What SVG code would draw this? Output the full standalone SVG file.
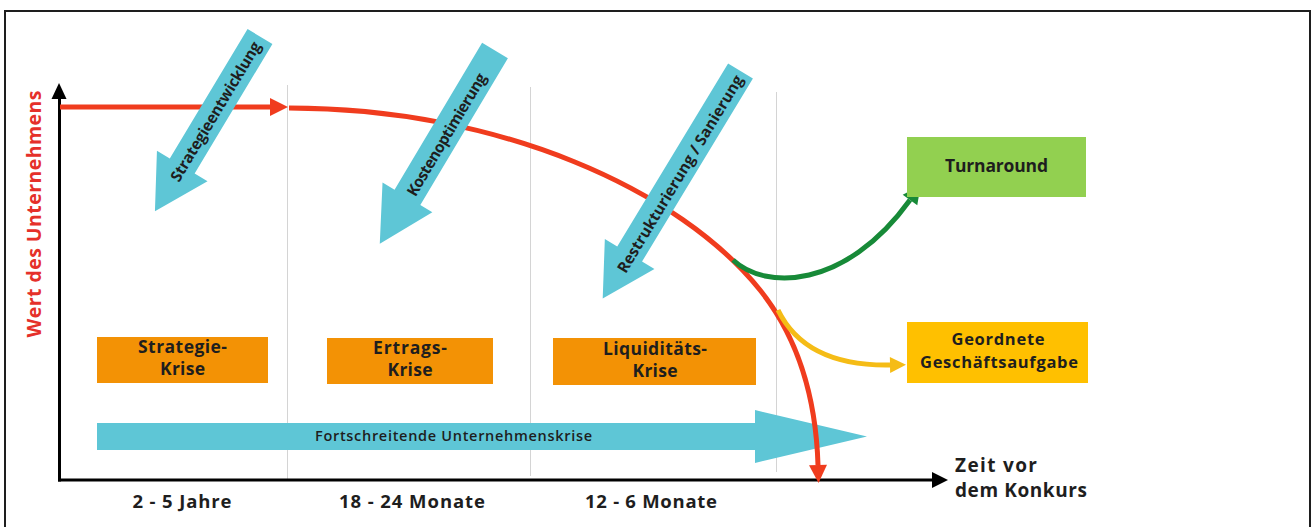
<svg xmlns="http://www.w3.org/2000/svg" width="1313" height="527" viewBox="0 0 1313 527">
<style>
.lbl{font-family:"Open Sans",Lato,"Liberation Sans",sans-serif;font-weight:bold;fill:#1e1e1e;text-anchor:middle}
.box{font-size:17.5px}
.arr{font-size:15.5px}
.grid{stroke:#d4d4d4;stroke-width:1}
.cyan{fill:#5ec6d6}
.red{fill:none;stroke:#f03c1e;stroke-width:5}
</style>
<defs>
<marker id="ahR" viewBox="-1 -10 20 20" refX="0" refY="0" markerWidth="20" markerHeight="20" markerUnits="userSpaceOnUse" orient="auto"><path d="M0,-9 L18,0 L0,9 Z" fill="#f03c1e"/></marker>
<marker id="ahG" viewBox="-1 -10 20 20" refX="0" refY="0" markerWidth="20" markerHeight="20" markerUnits="userSpaceOnUse" orient="auto"><path d="M0,-9 L18,0 L0,9 Z" fill="#178a38"/></marker>
<marker id="ahY" viewBox="-1 -10 20 20" refX="0" refY="0" markerWidth="20" markerHeight="20" markerUnits="userSpaceOnUse" orient="auto"><path d="M0,-8 L16,0 L0,8 Z" fill="#f5bc16"/></marker>
</defs>
<rect x="0" y="0" width="1313" height="527" fill="#ffffff"/>
<rect x="5" y="11" width="1305" height="530" fill="none" stroke="#1e1e1e" stroke-width="2"/>

<g id="grid">
<line class="grid" x1="287.5" y1="85" x2="287.5" y2="479"/>
<line class="grid" x1="530.5" y1="87" x2="530.5" y2="476"/>
<line class="grid" x1="776.5" y1="92" x2="776.5" y2="472"/>
</g>

<g id="axes">
<line x1="59.5" y1="96" x2="59.5" y2="481.5" stroke="#000" stroke-width="3"/>
<polygon points="59,83 51.5,99 66.5,99" fill="#000"/>
<line x1="58" y1="480" x2="935" y2="480" stroke="#000" stroke-width="3"/>
<polygon points="948,480 932,472 932,488" fill="#000"/>
<text class="lbl" transform="translate(41,214) rotate(-90)" font-size="19.5" style="fill:#e5302a" textLength="247">Wert des Unternehmens</text>
<text class="lbl" x="955" y="472" font-size="19" style="text-anchor:start" textLength="82">Zeit vor</text>
<text class="lbl" x="955" y="497" font-size="19" style="text-anchor:start" textLength="132">dem Konkurs</text>
<text class="lbl" x="182" y="508" font-size="18.5" textLength="99">2 - 5 Jahre</text>
<text class="lbl" x="412" y="508" font-size="18.5" textLength="146">18 - 24 Monate</text>
<text class="lbl" x="651" y="508" font-size="18.5" textLength="132">12 - 6 Monate</text>
</g>

<g id="progress-arrow">
<polygon class="cyan" points="97,423 755,423 755,410 867,436.5 755,463 755,450 97,450"/>
<text class="lbl" x="453.5" y="441" font-size="14.5" textLength="277" style="font-weight:600">Fortschreitende Unternehmenskrise</text>
</g>

<g id="connectors">
<path class="red" d="M60,107 L270,107" stroke-width="6" marker-end="url(#ahR)"/>
<path class="red" d="M289,108 C500,108 680,190 760,290 C800,340 816,400 818,465" marker-end="url(#ahR)"/>
<path d="M733,260 C765,290 845,290 910,200" fill="none" stroke="#178a38" stroke-width="5" marker-end="url(#ahG)"/>
<path d="M778,310 C795,345 830,366 890,365" fill="none" stroke="#f5bc16" stroke-width="5" marker-end="url(#ahY)"/>
</g>

<g id="strategieentwicklung">
<polygon class="cyan" transform="translate(260,36.5) rotate(121)" points="0,-14.5 151,-14.5 151,-29.5 204,0 151,29.5 151,14.5 0,14.5"/>
<text class="lbl arr" transform="translate(215.5,111.5) rotate(-59)" y="5.5" textLength="160">Strategieentwicklung</text>
</g>

<g id="kostenoptimierung">
<polygon class="cyan" transform="translate(495,50.5) rotate(120.8)" points="0,-15 171,-15 171,-29 225,0 171,29 171,15 0,15"/>
<text class="lbl arr" transform="translate(446.5,134.5) rotate(-59.2)" y="5.5" textLength="140">Kostenoptimierung</text>
</g>

<g id="restrukturierung">
<polygon class="cyan" transform="translate(740.5,71) rotate(121.2)" points="0,-14.5 214,-14.5 214,-29 266,0 214,29 214,14.5 0,14.5"/>
<text class="lbl arr" transform="translate(680,174) rotate(-58.8)" y="5.5" textLength="228">Restrukturierung / Sanierung</text>
</g>

<g id="strategie-krise">
<rect x="97" y="337" width="171" height="46" fill="#f39205"/>
<text class="lbl box" x="182.5" y="353" textLength="89">Strategie-</text>
<text class="lbl box" x="182.5" y="375" textLength="45">Krise</text>
</g>

<g id="ertrags-krise">
<rect x="327" y="338" width="166" height="46" fill="#f39205"/>
<text class="lbl box" x="410" y="354" textLength="74">Ertrags-</text>
<text class="lbl box" x="410" y="376" textLength="45">Krise</text>
</g>

<g id="liquiditaets-krise">
<rect x="553" y="338" width="203" height="47" fill="#f39205"/>
<text class="lbl box" x="655" y="355" textLength="104">Liquiditäts-</text>
<text class="lbl box" x="655" y="377" textLength="45">Krise</text>
</g>

<g id="turnaround">
<rect x="907" y="137" width="179" height="60" fill="#92d050"/>
<text class="lbl box" x="996.5" y="172" textLength="103">Turnaround</text>
</g>

<g id="geschaeftsaufgabe">
<rect x="907" y="322" width="181" height="61" fill="#ffc000"/>
<text class="lbl" x="998" y="345" font-size="16.5" textLength="93">Geordnete</text>
<text class="lbl" x="999" y="368" font-size="16.5" textLength="158">Geschäftsaufgabe</text>
</g>
</svg>
